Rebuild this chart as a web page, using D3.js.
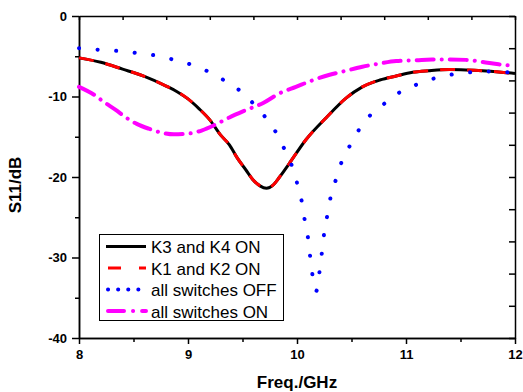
<!DOCTYPE html>
<html>
<head>
<meta charset="utf-8">
<script src="https://cdn.jsdelivr.net/npm/d3@7"></script>
<style>
	body { margin: 0; background: #fff; }
	text { font-family: "Liberation Sans", Arial, sans-serif; }
</style>
</head>
<body>
<div id="root"></div>
<script>
// K3 and K4 ON (K1 and K2 ON follows the same trace)
const freqK34 = [8.0, 8.2, 8.4, 8.6, 8.8, 8.9, 9.0, 9.1, 9.2, 9.3, 9.38, 9.45, 9.53, 9.6, 9.66, 9.72, 9.78, 9.84, 9.93, 10.08, 10.27, 10.45, 10.6, 10.76, 10.91, 11.06, 11.21, 11.4, 11.55, 11.7, 11.85, 12.0];
const s11K34 = [-5.2, -5.75, -6.6, -7.5, -8.7, -9.4, -10.3, -11.5, -12.9, -14.8, -16.0, -17.6, -19.1, -20.4, -21.1, -21.4, -21.0, -20.0, -18.3, -15.4, -12.6, -10.2, -8.8, -7.95, -7.45, -7.0, -6.8, -6.65, -6.7, -6.8, -6.95, -7.15];
const s11K12 = s11K34.slice();

// all switches OFF
const freqOff = [8.0, 8.19, 8.36, 8.53, 8.7, 8.86, 9.02, 9.17, 9.32, 9.46, 9.58, 9.7, 9.8, 9.88, 9.95, 10.0, 10.04, 10.07, 10.1, 10.12, 10.14, 10.175, 10.21, 10.23, 10.25, 10.28, 10.31, 10.36, 10.41, 10.49, 10.57, 10.66, 10.8, 10.94, 11.1, 11.26, 11.43, 11.59, 11.77, 11.94, 12.0];
const s11Off = [-4.0, -4.2, -4.35, -4.6, -4.9, -5.4, -6.0, -6.8, -7.9, -9.1, -10.6, -12.4, -14.3, -16.4, -18.5, -20.7, -22.8, -25.3, -27.5, -29.8, -32.0, -34.2, -31.4, -29.2, -26.9, -24.6, -22.4, -20.2, -18.1, -16.0, -14.1, -12.5, -10.9, -9.5, -8.5, -7.75, -7.25, -7.0, -6.9, -7.0, -7.05];

// all switches ON
const freqOn = [8.0, 8.14, 8.23, 8.34, 8.43, 8.53, 8.64, 8.76, 8.87, 9.01, 9.13, 9.25, 9.38, 9.53, 9.69, 9.84, 9.99, 10.14, 10.3, 10.45, 10.6, 10.76, 10.91, 11.09, 11.24, 11.4, 11.55, 11.7, 11.85, 12.0];
const s11On = [-8.8, -9.8, -10.7, -11.7, -12.6, -13.4, -14.0, -14.5, -14.7, -14.6, -14.2, -13.5, -12.6, -11.7, -10.8, -9.6, -8.8, -8.0, -7.3, -6.8, -6.3, -5.9, -5.6, -5.5, -5.4, -5.4, -5.45, -5.7, -6.0, -6.2];

const legendLabels = ["K3 and K4 ON", "K1 and K2 ON", "all switches OFF", "all switches ON"];
const xTicks = [8, 9, 10, 11, 12];
const yTicks = [0, -10, -20, -30, -40];

const main = () => {
	const W = 523, H = 392;
	const x = d3.scaleLinear().domain([8, 12]).range([79, 515]);
	const y = d3.scaleLinear().domain([0, -40]).range([16, 338]);

	const svg = d3.select("#root").append("svg")
		.attr("width", W).attr("height", H);

	// plain hyphen for negatives, like the original plot
	const fmt = (d) => String(d);

	const styleAxis = (g) => {
		g.selectAll("path, line").attr("stroke", "#000").attr("stroke-width", 1.5);
		g.selectAll("text")
			.attr("font-size", 13)
			.attr("font-weight", "bold")
			.attr("fill", "#000")
			.attr("font-family", "Liberation Sans, Arial, sans-serif");
	};

	// minor ticks
	svg.append("g").attr("transform", "translate(0,338)")
		.call(d3.axisBottom(x).tickValues(d3.range(8.5, 12, 1)).tickSize(4).tickSizeOuter(0).tickFormat(""))
		.call(styleAxis);
	svg.append("g").attr("transform", "translate(79,0)")
		.call(d3.axisLeft(y).tickValues([-5, -15, -25, -35]).tickSize(4).tickSizeOuter(0).tickFormat(""))
		.call(styleAxis);

	// top and right frame with inward ticks
	svg.append("g").attr("transform", "translate(0,16)")
		.call(d3.axisTop(x).tickValues(d3.range(0, 11).map((i) => 8 + i * 0.4)).tickSize(-4).tickSizeOuter(0).tickFormat(""))
		.call(styleAxis);
	svg.append("g").attr("transform", "translate(515,0)")
		.call(d3.axisRight(y).tickValues(d3.range(0, 11).map((i) => -4 * i)).tickSize(-6).tickSizeOuter(0).tickFormat(""))
		.call(styleAxis);

	// main axes
	svg.append("g").attr("transform", "translate(0,338)")
		.call(d3.axisBottom(x).tickValues(xTicks).tickSize(6).tickPadding(6).tickSizeOuter(0).tickFormat(fmt))
		.call(styleAxis);
	svg.append("g").attr("transform", "translate(79,0)")
		.call(d3.axisLeft(y).tickValues(yTicks).tickSize(7).tickPadding(5).tickSizeOuter(0).tickFormat(fmt))
		.call(styleAxis);

	// axis titles
	svg.append("text")
		.attr("x", 297).attr("y", 388)
		.attr("text-anchor", "middle")
		.attr("font-size", 17).attr("font-weight", "bold")
		.text("Freq./GHz");
	svg.append("text")
		.attr("transform", "translate(21,185) rotate(-90)")
		.attr("text-anchor", "middle")
		.attr("font-size", 17).attr("font-weight", "bold")
		.text("S11/dB");

	const series = [
		{ f: freqK34, v: s11K34, color: "#000", width: 3, dash: null, cap: "butt" },
		{ f: freqK34, v: s11K12, color: "#ff0000", width: 3, dash: "15,12", cap: "butt" },
		{ f: freqOff, v: s11Off, color: "#0000ff", width: 4, dash: "0.1,18.5", cap: "round" },
		{ f: freqOn, v: s11On, color: "#ff00ff", width: 4, dash: "17,8,0.1,8", cap: "round" },
	];

	const line = d3.line()
		.x((d) => x(d[0]))
		.y((d) => y(d[1]))
		.curve(d3.curveMonotoneX);

	series.forEach((s) => {
		svg.append("path")
			.datum(s.f.map((f, i) => [f, s.v[i]]))
			.attr("d", line)
			.attr("fill", "none")
			.attr("stroke", s.color)
			.attr("stroke-width", s.width)
			.attr("stroke-linecap", s.cap)
			.attr("stroke-dasharray", s.dash);
	});

	// legend
	const legend = svg.append("g");
	legend.append("rect")
		.attr("x", 99.5).attr("y", 234.5)
		.attr("width", 184).attr("height", 86)
		.attr("fill", "#fff").attr("stroke", "#000").attr("stroke-width", 1);

	const legendDash = ["none", "13,18", "0.1,10", "16,9,0.1,9"];
	legendLabels.forEach((label, i) => {
		const s = series[i];
		const ly = 246.5 + i * 21.5;
		legend.append("line")
			.attr("x1", i === 0 ? 106 : 108).attr("x2", 146)
			.attr("y1", ly).attr("y2", ly)
			.attr("stroke", s.color)
			.attr("stroke-width", s.width)
			.attr("stroke-linecap", s.cap)
			.attr("stroke-dasharray", legendDash[i]);
		legend.append("text")
			.attr("x", 151).attr("y", ly + 6.5)
			.attr("font-size", 17)
			.text(label);
	});
};

main();
</script>
</body>
</html>
